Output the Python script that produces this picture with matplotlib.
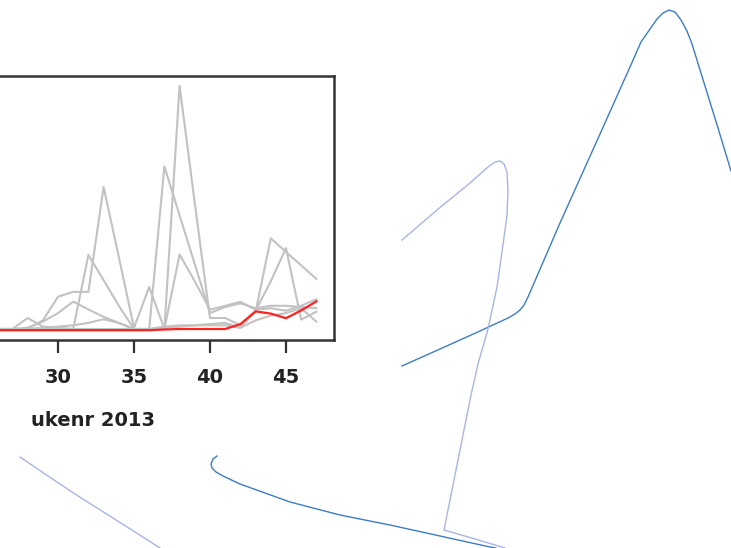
import numpy as np
import matplotlib.pyplot as plt

# uke 18-47, 2013
weeks = list(range(18, 48))

# grå serier (uke 18-26 ligger utenfor bildet)
grey_a = [1, 1, 0.5, 1, 0.5, 1, 0.5, 0.5, 0.5,
          0.5, 0.5, 4, 13.7, 15.7, 15.7, 58.6, 30, 1, 17.7, 0.5,
          31, 20, 8.4, 10, 11.6, 8.4, 9, 8, 10, 12.7]
grey_b = [0.5, 1, 1, 0.5, 1, 0.5, 1, 0.5, 0.5,
          0.5, 5, 1.5, 1, 0.5, 30.8, 20.5, 10, 0.5, 0.5, 67,
          47, 27, 7, 9.5, 11, 9, 10, 10, 9.5, 9]
grey_c = [0.5, 0.5, 1, 0.5, 0.5, 1, 0.5, 0.5, 0.5,
          0.5, 0.5, 1, 1.5, 2, 3, 4.5, 3, 0.5, 0.5, 0.5,
          100, 52, 5, 5, 2, 7.5, 37.6, 32, 26.5, 21]
grey_d = [0.5, 0.5, 0.5, 1, 0.5, 0.5, 0.5, 0.5, 0.5,
          0.5, 1, 3.5, 7, 11.7, 8.5, 5.5, 3, 0.5, 0.5, 1,
          1.5, 2, 2, 2, 1, 8, 20, 33.6, 4.3, 7.6]
grey_e = [0.5, 0.5, 0.5, 0.5, 0.5, 0.5, 0.5, 0.5, 0.5,
          0.5, 0.5, 0.5, 0.5, 0.5, 0.5, 0.5, 0.5, 0.5, 0.5, 1.5,
          2, 2, 2.5, 3, 1, 4, 6, 7, 9, 3.5]
red = [0, 0, 0, 0, 0, 0, 0, 0, 0,
       0, 0, 0, 0, 0, 0, 0, 0, 0, 0, 0.3,
       0.5, 0.5, 0.5, 0.5, 2.5, 7.7, 6.8, 4.9, 8.1, 11.8]

xticks = [30, 35, 40, 45]

# dekorative kurver, i bildepiksler
curve1_x = [402, 440, 480, 508, 515, 520, 524, 528, 560, 600, 630, 641, 650, 657, 663, 669, 675, 681, 687, 692, 705, 718, 731]
curve1_y = [366, 349, 331, 318, 314, 310, 305, 297, 223, 134, 67, 42, 29, 19, 13, 10, 12, 20, 31, 44, 86, 128, 171]
curve2_x = [402, 437, 470, 488, 495, 500, 504, 507, 508, 507, 503, 497, 488, 478, 471, 458, 444, 475, 505]
curve2_y = [240, 210, 183, 167, 162, 161, 164, 172, 190, 215, 245, 287, 329, 364, 395, 460, 530, 539, 548]
curve3_x = [217, 213, 211, 212, 216, 223, 240, 290, 340, 390, 440, 490, 496]
curve3_y = [456, 459, 464, 468, 472, 476, 484, 502, 515, 525, 536, 547, 548]
curve4_x = [20, 45, 75, 105, 135, 160]
curve4_y = [457, 474, 494, 513, 532, 548]

plt.rcParams['font.family'] = ['DejaVu Sans']

W, H = 731, 548
fig = plt.figure(figsize=(W / 100, H / 100), dpi=100)
ax = fig.add_axes([-142 / W, (H - 340) / H, 476 / W, 264 / H])

for s in [grey_a, grey_b, grey_c, grey_d, grey_e]:
    ax.plot(weeks, s, color='#c2c2c2', lw=1.5)
ax.plot(weeks, red, color='#ff2020', lw=1.6)

ax.margins(x=0.04, y=0.04)
ax.set_xticks(xticks)
ax.set_yticks([])
ax.tick_params(axis='x', length=9, width=1.6, color='#333333', pad=11,
               labelsize=14, labelcolor='#222222')
for lab in ax.get_xticklabels():
    lab.set_fontweight('bold')
for sp in ax.spines.values():
    sp.set_linewidth(1.8)
    sp.set_color('#333333')

ax.set_xlabel('ukenr 2013', fontsize=14, fontweight='bold', color='#222222')
ax.xaxis.label.set_va('center')
ax.xaxis.set_label_coords(0.494, -0.305)

# overlegg med kurvene
ov = fig.add_axes([0, 0, 1, 1])
ov.set_xlim(0, W)
ov.set_ylim(H, 0)
ov.axis('off')
ov.patch.set_alpha(0)
ov.plot(curve1_x, curve1_y, color='#3d7cc4', lw=1.0, solid_joinstyle='round')
ov.plot(curve2_x, curve2_y, color='#a8b5e2', lw=1.0, solid_joinstyle='round')
ov.plot(curve3_x, curve3_y, color='#3d7cc4', lw=1.0, solid_joinstyle='round')
ov.plot(curve4_x, curve4_y, color='#a8b5e2', lw=1.0, solid_joinstyle='round')

fig.savefig('out.png', dpi=100)
